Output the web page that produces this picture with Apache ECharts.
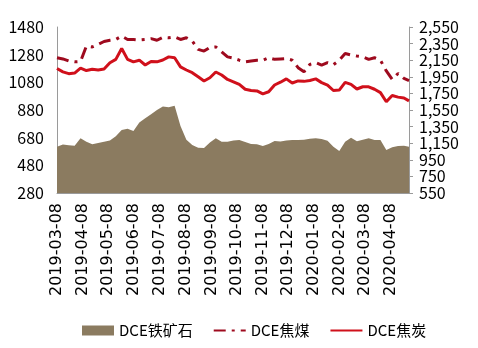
<!DOCTYPE html>
<html>
<head>
<meta charset="utf-8">
<script src="https://cdn.jsdelivr.net/npm/echarts@6/dist/echarts.min.js"></script>
<style>
  html, body { margin: 0; padding: 0; background: #fff; }
  #chart { width: 478px; height: 348px; }
</style>
</head>
<body>
<div id="chart"></div>
<script>
// Weekly closes, DCE continuous contracts
const dates = ['2019-03-08','2019-03-15','2019-03-22','2019-03-29','2019-04-05','2019-04-12','2019-04-19','2019-04-26','2019-05-03','2019-05-10','2019-05-17','2019-05-24','2019-05-31','2019-06-07','2019-06-14','2019-06-21','2019-06-28','2019-07-05','2019-07-12','2019-07-19','2019-07-26','2019-08-02','2019-08-09','2019-08-16','2019-08-23','2019-08-30','2019-09-06','2019-09-13','2019-09-20','2019-09-27','2019-10-04','2019-10-11','2019-10-18','2019-10-25','2019-11-01','2019-11-08','2019-11-15','2019-11-22','2019-11-29','2019-12-06','2019-12-13','2019-12-20','2019-12-27','2020-01-03','2020-01-10','2020-01-17','2020-01-24','2020-01-31','2020-02-07','2020-02-14','2020-02-21','2020-02-28','2020-03-06','2020-03-13','2020-03-20','2020-03-27','2020-04-03','2020-04-10','2020-04-17','2020-04-24','2020-04-30'];

// DCE铁矿石 (left axis)
const ironOre = [615,630,625,622,675,650,632,641,650,660,690,735,745,728,790,820,850,880,905,900,910,765,665,627,608,605,645,675,651,650,660,663,648,634,633,620,635,656,652,660,663,663,665,672,675,670,658,615,584,650,680,655,665,675,663,663,591,610,620,622,615];

// DCE焦煤 (right axis)
const cokingCoal = [2180,2165,2140,2130,2135,2320,2310,2340,2375,2390,2400,2440,2400,2400,2393,2400,2410,2390,2425,2420,2430,2400,2420,2380,2280,2260,2305,2310,2250,2190,2175,2150,2130,2140,2150,2150,2180,2160,2165,2170,2150,2060,2010,2100,2120,2090,2120,2095,2150,2230,2213,2200,2190,2160,2180,2150,2020,1920,1990,1930,1905];

// DCE焦炭 (right axis)
const coke = [2050,2010,1988,1995,2055,2025,2040,2032,2045,2120,2160,2290,2160,2130,2150,2092,2135,2130,2152,2190,2180,2070,2032,2000,1950,1900,1939,2008,1972,1918,1890,1859,1800,1785,1780,1745,1770,1851,1885,1925,1875,1900,1895,1905,1925,1880,1850,1785,1790,1883,1859,1803,1830,1830,1800,1760,1650,1725,1705,1695,1660];

// Axis ticks
const xTickDates = ['2019-03-08','2019-04-08','2019-05-08','2019-06-08','2019-07-08','2019-08-08','2019-09-08','2019-10-08','2019-11-08','2019-12-08','2020-01-08','2020-02-08','2020-03-08','2020-04-08'];
const leftTicks = [280,480,680,880,1080,1280,1480];
const rightTicks = [550,750,950,1150,1350,1550,1750,1950,2150,2350,2550];

const xStart = '2019-03-08';
const xEnd = '2020-04-30';

const seriesNames = ['DCE铁矿石', 'DCE焦煤', 'DCE焦炭'];

// dates are placed on a numeric (millisecond) axis
const t = s => echarts.time.parse(s).getTime();
const pairs = vals => dates.map((d, i) => [t(d), vals[i]]);

const narrowFont = '"Liberation Sans Narrow", "Noto Sans CJK SC", sans-serif';
const noMarker = { color: 'rgba(0,0,0,0)', borderColor: 'rgba(0,0,0,0)', borderWidth: 0 };

const chart = echarts.init(document.getElementById('chart'), null, { renderer: 'canvas' });
chart.setOption({
  animation: false,
  backgroundColor: '#ffffff',
  grid: { left: 57, right: 69, top: 27, bottom: 155 },
  legend: {
    top: 318,
    left: 77,
    itemWidth: 32,
    itemHeight: 10,
    itemGap: 20,
    textStyle: { fontFamily: narrowFont, fontSize: 15, color: '#000' },
    data: [
      { name: seriesNames[0], icon: 'rect' },
      { name: seriesNames[1], itemStyle: noMarker },
      { name: seriesNames[2], itemStyle: noMarker }
    ]
  },
  xAxis: {
    type: 'value',
    min: t(xStart),
    max: t(xEnd),
    splitLine: { show: false },
    axisTick: { show: false },
    axisLine: { lineStyle: { color: '#9a9a9a', width: 1 } },
    axisLabel: {
      customValues: xTickDates.map(t),
      rotate: 90,
      margin: 10,
      fontFamily: '"DejaVu Sans", sans-serif',
      fontSize: 16,
      color: '#000',
      formatter: v => echarts.time.format(v, '{yyyy}-{MM}-{dd}', false)
    }
  },
  yAxis: [
    {
      type: 'value',
      min: 280,
      max: 1480,
      splitLine: { show: false },
      axisLine: { show: true, lineStyle: { color: '#9a9a9a', width: 1 } },
      axisTick: { show: false },
      axisLabel: {
        customValues: leftTicks,
        margin: 13,
        fontFamily: narrowFont,
        fontSize: 16,
        color: '#000',
        formatter: v => String(v)
      }
    },
    {
      type: 'value',
      position: 'right',
      min: 550,
      max: 2550,
      splitLine: { show: false },
      axisLine: { show: true, lineStyle: { color: '#9a9a9a', width: 1 } },
      axisTick: { show: true, customValues: rightTicks, length: 4, inside: false, lineStyle: { color: '#9a9a9a' } },
      axisLabel: {
        customValues: rightTicks,
        margin: 10,
        fontFamily: narrowFont,
        fontSize: 16,
        color: '#000',
        formatter: v => v.toLocaleString('en-US')
      }
    }
  ],
  series: [
    {
      name: seriesNames[0],
      type: 'line',
      yAxisIndex: 0,
      data: pairs(ironOre),
      symbol: 'none',
      itemStyle: { color: '#8b7b60' },
      lineStyle: { width: 0, color: '#8b7b60' },
      areaStyle: { color: '#8b7b60', opacity: 1 },
      z: 1
    },
    {
      name: seriesNames[1],
      type: 'line',
      yAxisIndex: 1,
      data: pairs(cokingCoal),
      symbol: 'none',
      itemStyle: { color: '#9e0a1e' },
      lineStyle: { width: 3, color: '#9e0a1e', type: [12, 6, 3, 6] },
      z: 3
    },
    {
      name: seriesNames[2],
      type: 'line',
      yAxisIndex: 1,
      data: pairs(coke),
      symbol: 'none',
      itemStyle: { color: '#d0101b' },
      lineStyle: { width: 3, color: '#d0101b' },
      z: 3
    }
  ]
});
</script>
</body>
</html>
